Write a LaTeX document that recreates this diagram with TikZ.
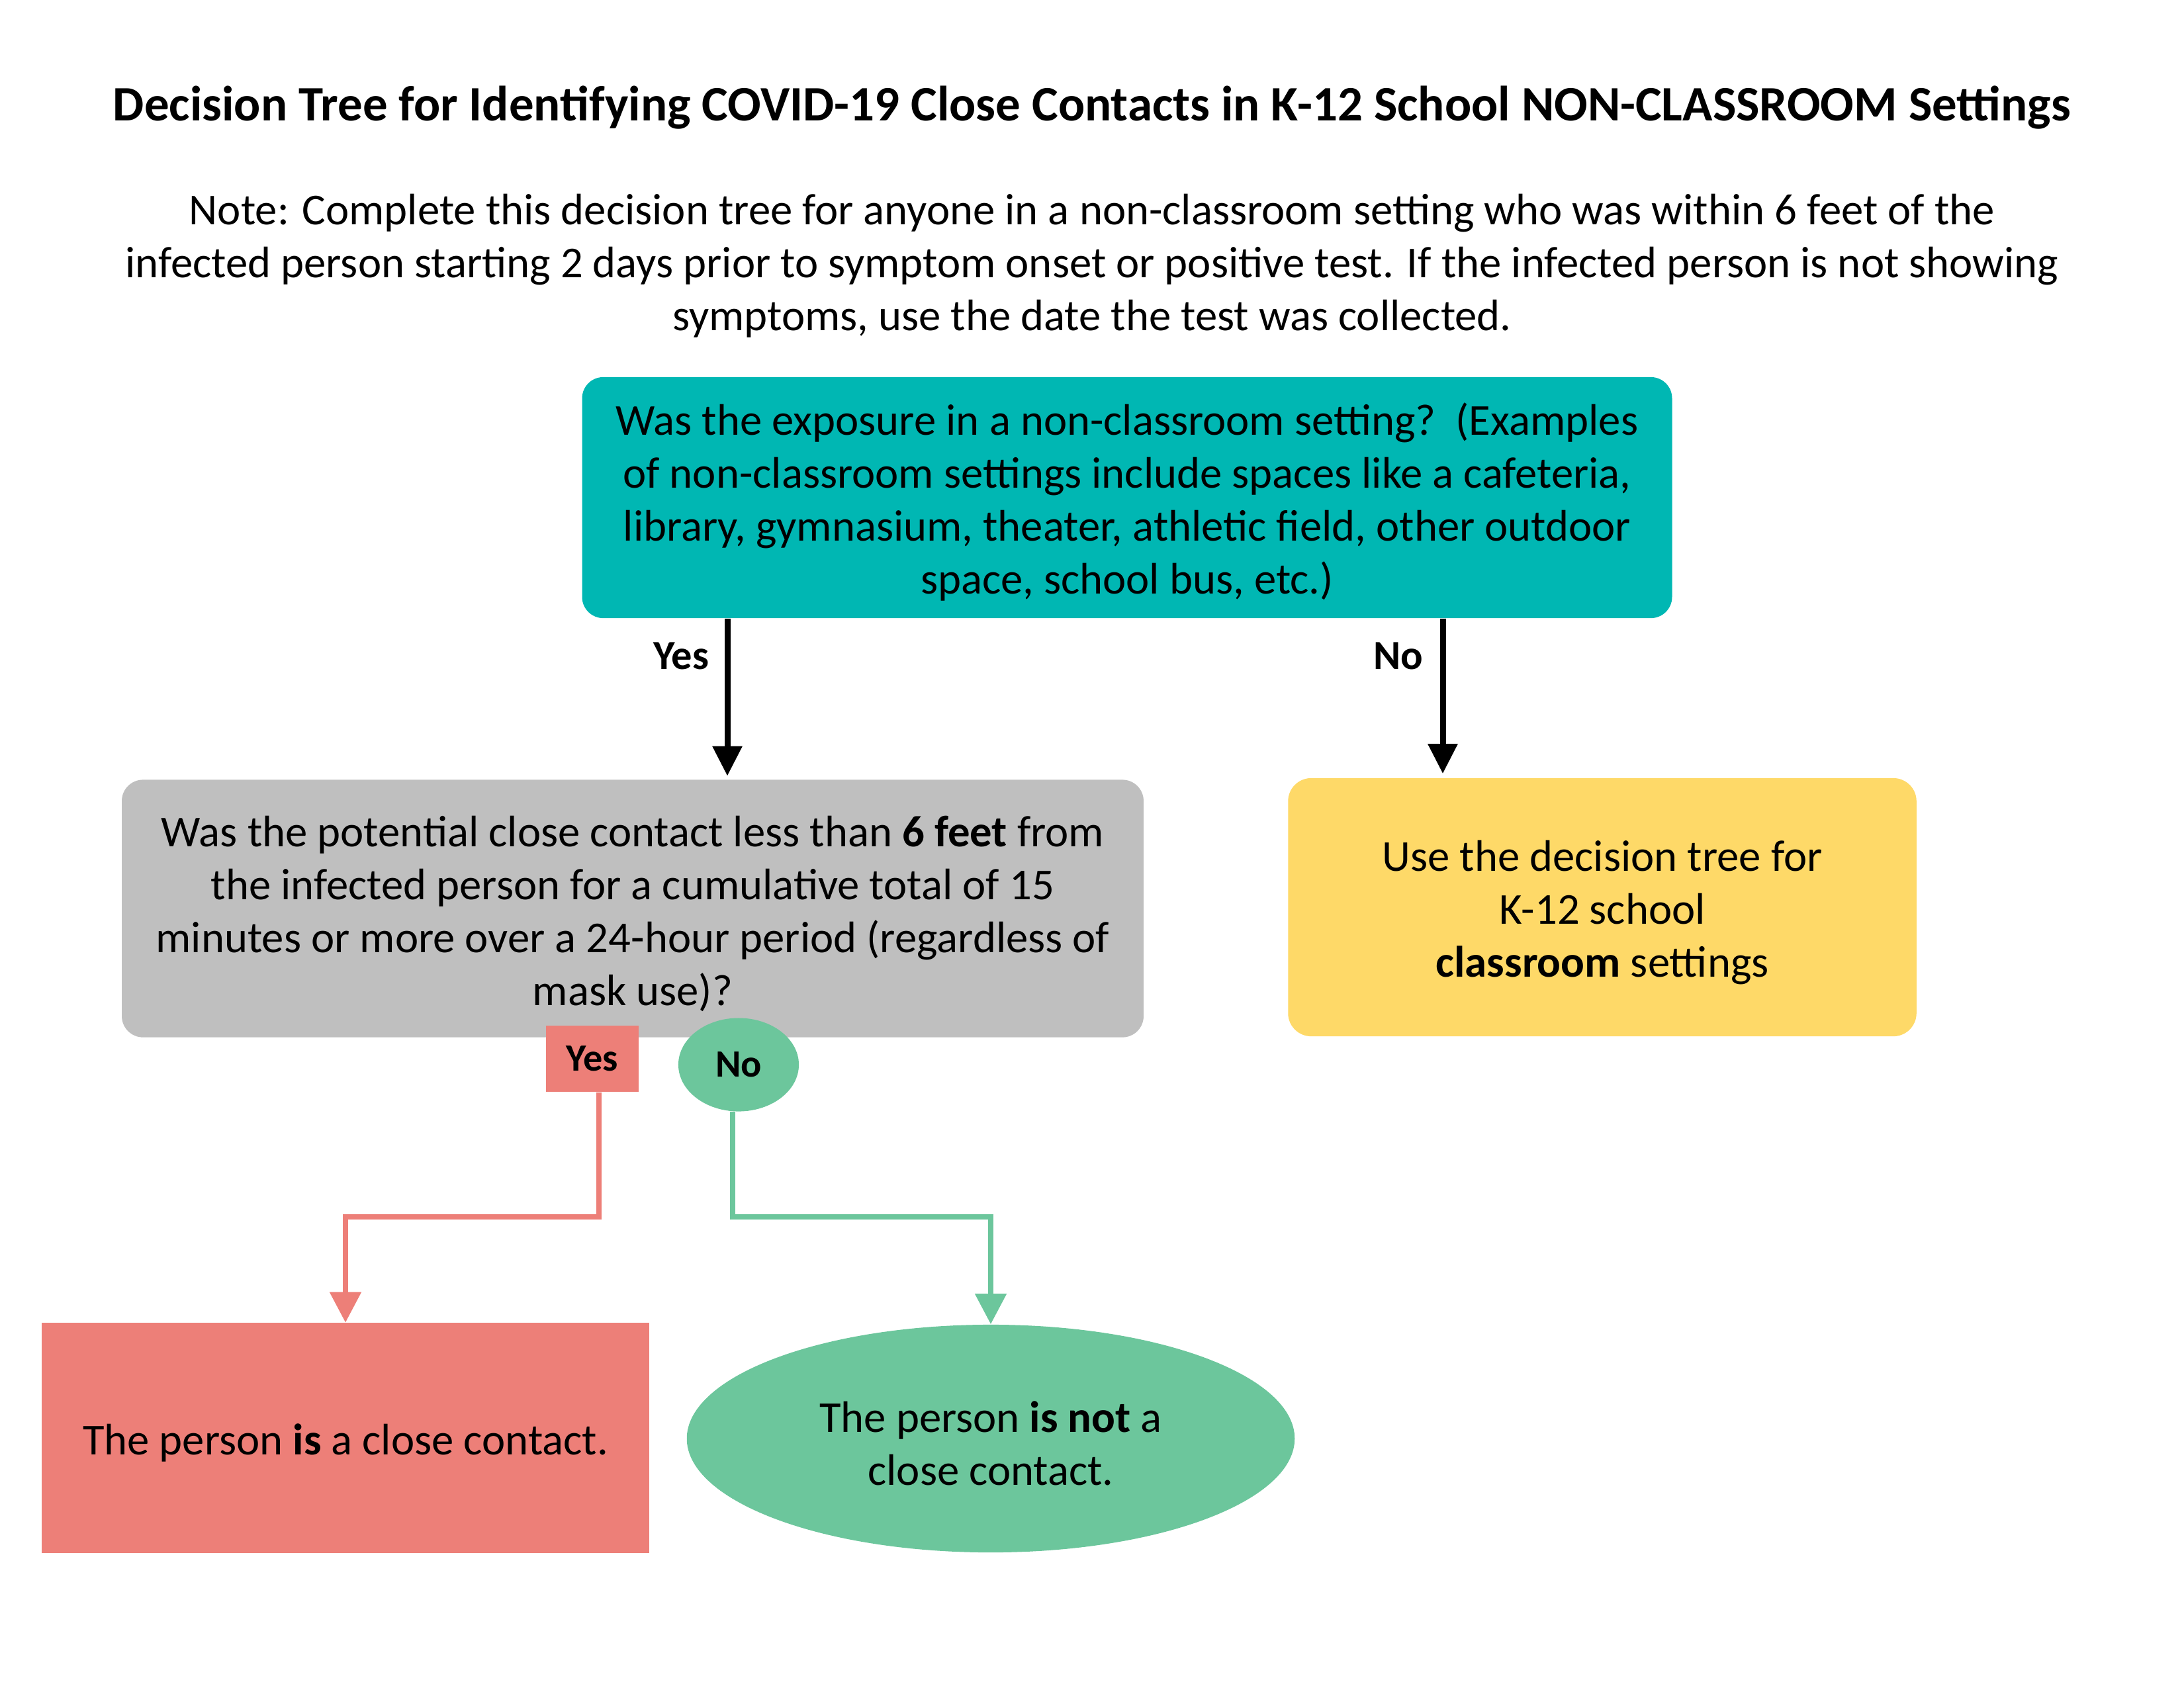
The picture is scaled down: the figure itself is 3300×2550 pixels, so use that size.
\documentclass[tikz,border=0pt]{standalone}
\usepackage{fontspec}
\setmainfont{Carlito}
\usetikzlibrary{arrows.meta,shapes.geometric}
\definecolor{tealbox}{RGB}{0,183,179}
\definecolor{greybox}{RGB}{191,191,191}
\definecolor{yellowbox}{RGB}{254,217,104}
\definecolor{salmonc}{RGB}{237,127,120}
\definecolor{greenc}{RGB}{108,198,156}
\newcommand\tstrut{\rule{0pt}{17.6pt}}
\begin{document}
\begin{tikzpicture}[x=0.01cm,y=-0.01cm,
  bodyfont/.style={font=\fontsize{18.97pt}{22.76pt}\selectfont},
  labelfont/.style={font=\fontsize{17.78pt}{21pt}\selectfont\bfseries},
  smallfont/.style={font=\fontsize{16.6pt}{20pt}\selectfont\bfseries},
  qbox/.style={rounded corners=0.32cm, inner sep=0pt, align=center, bodyfont},
  blackarrow/.style={line width=0.09cm, -{Triangle[length=0.45cm,width=0.43cm]}},
  redarrow/.style={draw=salmonc, line width=0.08cm, -{Triangle[length=0.46cm,width=0.46cm]}},
  greenarrow/.style={draw=greenc, line width=0.08cm, -{Triangle[length=0.46cm,width=0.46cm]}}
]
\useasboundingbox (0,0) rectangle (3300,2550);

\node[font=\fontsize{21.3pt}{25pt}\selectfont\bfseries] (title) at (1650,162)
  {Decision Tree for Identifying COVID-19 Close Contacts in K-12 School NON-CLASSROOM Settings};

\node[bodyfont, align=center] (note) at (1650,402)
  {Note: Complete this decision tree for anyone in a non-classroom setting who was within 6 feet of the\\
   infected person starting 2 days prior to symptom onset or positive test. If the infected person is not showing\\
   symptoms, use the date the test was collected.};

\node[qbox, fill=tealbox, minimum width=16.46cm, minimum height=3.64cm] (top) at (1703,752)
  {\tstrut Was the exposure in a non-classroom setting?\ \ (Examples\\
   of non-classroom settings include spaces like a cafeteria,\\
   library, gymnasium, theater, athletic field, other outdoor\\
   space, school bus, etc.)};

\node[qbox, fill=greybox, minimum width=15.43cm, minimum height=3.89cm] (grey) at (956,1373)
  {\tstrut Was the potential close contact less than \textbf{6 feet} from\\
   the infected person for a cumulative total of 15\\
   minutes or more over a 24-hour period (regardless of\\
   mask use)?};

\node[qbox, rounded corners=0.35cm, fill=yellowbox, minimum width=9.49cm, minimum height=3.90cm] (yellow) at (2421,1371)
  {\tstrut Use the decision tree for\\
   K-12 school\\
   \textbf{classroom} settings};

\coordinate (ya) at (1099,0);
\coordinate (na) at (2180,0);
\draw[blackarrow] (top.south -| ya) -- ([yshift=0.05cm]grey.north -| ya);
\draw[blackarrow] (top.south -| na) -- ([yshift=0.06cm]yellow.north -| na);
\node[labelfont] (yeslab) at (1029,991) {Yes};
\node[labelfont] (nolab) at (2113,991) {No};

\node[smallfont, fill=salmonc, minimum width=1.40cm, minimum height=1.00cm, inner sep=0pt] (ybox) at (895,1600) {Yes};
\node[smallfont, ellipse, fill=greenc, minimum width=1.82cm, minimum height=1.41cm, inner sep=0pt] (nell) at (1116,1609) {No};

\node[bodyfont, fill=salmonc, minimum width=9.18cm, minimum height=3.47cm, inner sep=0pt] (isc) at (522,2173)
  {\tstrut The person \textbf{is} a close contact.};
\node[bodyfont, ellipse, fill=greenc, minimum width=9.18cm, minimum height=3.44cm, inner sep=0pt, align=center] (notc) at (1497,2174)
  {\tstrut The person \textbf{is not} a\\ close contact.};

\coordinate (mid) at (0,1839);
\draw[redarrow] ([xshift=0.1cm]ybox.south) -- ([xshift=0.1cm]ybox.south |- mid) -| (isc.north);
\draw[greenarrow] ([xshift=-0.09cm]nell.south) -- ([xshift=-0.09cm]nell.south |- mid) -| (notc.north);
\end{tikzpicture}
\end{document}
